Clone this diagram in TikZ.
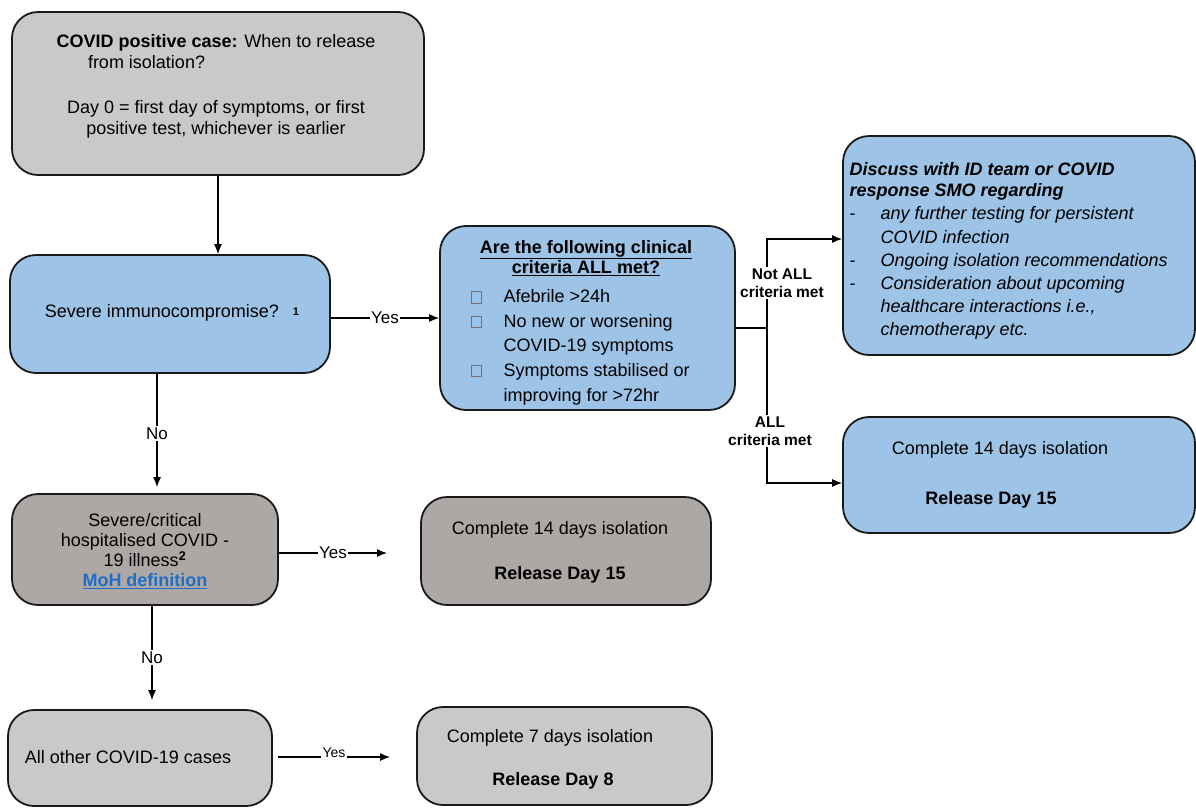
\documentclass[tikz,border=0pt]{standalone}
\usepackage{fontspec}
\setmainfont{Liberation Sans}
\usetikzlibrary{positioning}
\usetikzlibrary{calc}
\usetikzlibrary{arrows.meta}
\definecolor{boxgrey}{HTML}{C9C9C9}
\definecolor{boxtaupe}{HTML}{ADA8A5}
\definecolor{boxblue}{HTML}{9DC3E6}
\definecolor{linkblue}{HTML}{1F6FC8}
\newcommand{\tickbox}{\textcolor{black!55}{\fboxsep=0pt\fboxrule=0.7pt\fbox{\rule{0pt}{11pt}\hspace*{10pt}}}}
\tikzset{FCstyle/.style={
    x=1pt,y=-1pt,% one unit = one pixel of the page, y downwards
    >={Latex[length=10pt,width=8pt]},
    line width=1.1pt,
    font=\fontsize{18}{21}\selectfont
  },
  flowbox/.style={draw=black!90, line width=1.8pt, rounded corners=26pt, inner sep=0pt},
  greybox/.style={flowbox, fill=boxgrey},
  taupebox/.style={flowbox, fill=boxtaupe},
  bluebox/.style={flowbox, fill=boxblue},
  boxtext/.style={inner sep=0pt, align=center},
  branch/.style={fill=white, inner sep=1.5pt, font=\fontsize{17}{20}\selectfont},
  critlabel/.style={fill=white, inner sep=1pt, align=center, font=\fontsize{15.5}{18.5}\selectfont\bfseries}
}

\begin{document}
\begin{tikzpicture}[FCstyle]
  \useasboundingbox (0,0) rectangle (1196,807);
  % boxes
  \node[greybox, minimum width=412pt, minimum height=163pt] (start) at (218,93.5) {};
  \node[bluebox, minimum width=320pt, minimum height=118pt] (immuno) at (170,314) {};
  \node[bluebox, minimum width=295pt, minimum height=184pt] (criteria) at (587.5,318) {};
  \node[bluebox, minimum width=352pt, minimum height=219pt] (discuss) at (1019,245.5) {};
  \node[bluebox, minimum width=352pt, minimum height=116pt] (release15b) at (1019,475) {};
  \node[taupebox, minimum width=266pt, minimum height=111pt] (hospital) at (145,549.5) {};
  \node[taupebox, minimum width=290pt, minimum height=108pt] (release15a) at (566,551) {};
  \node[greybox, minimum width=264pt, minimum height=96pt] (others) at (140,758) {};
  \node[greybox, minimum width=295pt, minimum height=98pt] (release8) at (564.5,756) {};

  % texts
  \node[boxtext] (starttxt) at (216,86) {\textbf{COVID positive case:} When to release\\
    \makebox[256pt][l]{from isolation?}\\[24pt]
    Day 0 = first day of symptoms, or first\\
    positive test, whichever is earlier};
  \node[boxtext] (immunotxt) at (172,313) {Severe immunocompromise?\hspace{14pt}\raisebox{2pt}{\fontsize{11}{11}\selectfont\bfseries 1}};
  \node[boxtext, font=\fontsize{18}{20}\selectfont\bfseries] (criteriahead) at (586,258)
    {\underline{Are the following clinical}\\ \underline{criteria ALL met?}};
  \node[inner sep=0pt, anchor=west] (criterialist) at (470,347) {\def\arraystretch{1.17}%
    \begin{tabular}{@{}p{33pt}@{}l@{}}
      \tickbox & Afebrile >24h\\
      \tickbox & No new or worsening\\
               & COVID-19 symptoms\\
      \tickbox & Symptoms stabilised or\\
               & improving for >72hr
    \end{tabular}};
  \node[inner sep=0pt, anchor=west] (discusstxt) at (849,251) {\def\arraystretch{1.1}%
    \begin{tabular}{@{}p{31pt}@{}l@{}}
      \multicolumn{2}{@{}l@{}}{\bfseries\itshape Discuss with ID team or COVID}\\[-2pt]
      \multicolumn{2}{@{}l@{}}{\bfseries\itshape response SMO regarding}\\
      - & \itshape any further testing for persistent\\
        & \itshape COVID infection\\
      - & \itshape Ongoing isolation recommendations\\
      - & \itshape Consideration about upcoming\\
        & \itshape healthcare interactions i.e.,\\
        & \itshape chemotherapy etc.
    \end{tabular}};
  \node[boxtext] (r15btop) at (1000,450) {Complete 14 days isolation};
  \node[boxtext] (r15bbot) at (991,500) {\textbf{Release Day 15}};
  \node[boxtext, font=\fontsize{18}{20}\selectfont] (hospitaltxt) at (145,551) {Severe/critical\\
    hospitalised COVID -\\
    19 illness\textsuperscript{\textbf{2}}\\
    \textcolor{linkblue}{\textbf{\underline{MoH definition}}}};
  \node[boxtext] (r15atop) at (560,530) {Complete 14 days isolation};
  \node[boxtext] (r15abot) at (560,575) {\textbf{Release Day 15}};
  \node[boxtext] (otherstxt) at (128,757) {All other COVID-19 cases};
  \node[boxtext] (r8top) at (550,738) {Complete 7 days isolation};
  \node[boxtext] (r8bot) at (553,781) {\textbf{Release Day 8}};

  % connectors
  \draw[->] (start.south) -- (start.south |- immuno.north);
  \draw[->] (immuno.east |- criteria.west) -- node[branch] {Yes} (criteria.west);

  \coordinate (fork) at (767,328);
  \coordinate (notall) at (767,239);
  \coordinate (allmet) at (767,483);
  \draw (criteria.east |- fork) -- (fork);
  \draw[->] (fork) -- (notall) -- (notall -| discuss.west);
  \draw[->] (fork) -- (allmet) -- (allmet -| release15b.west);
  \node[critlabel] (notlbl) at (782,283) {Not ALL\\criteria met};
  \node[critlabel] (alllbl) at (770,431) {ALL\\criteria met};

  \draw[->, shorten >=6pt] ([xshift=-13pt]immuno.south) -- node[branch] {No} ([xshift=-13pt]immuno.south |- hospital.north);
  \coordinate (yestwo) at (387,553);
  \draw[->] (hospital.east |- yestwo) -- node[branch] {Yes} (yestwo);
  \draw[->, shorten >=9pt] ([xshift=7pt]hospital.south) -- node[branch] {No} ([xshift=7pt]hospital.south |- others.north);
  \coordinate (yesthree) at (390,757);
  \draw[->] ([xshift=5pt]others.east |- yesthree) -- node[branch, yshift=4pt, font=\fontsize{14}{16}\selectfont] {Yes} (yesthree);
\end{tikzpicture}
\end{document}
